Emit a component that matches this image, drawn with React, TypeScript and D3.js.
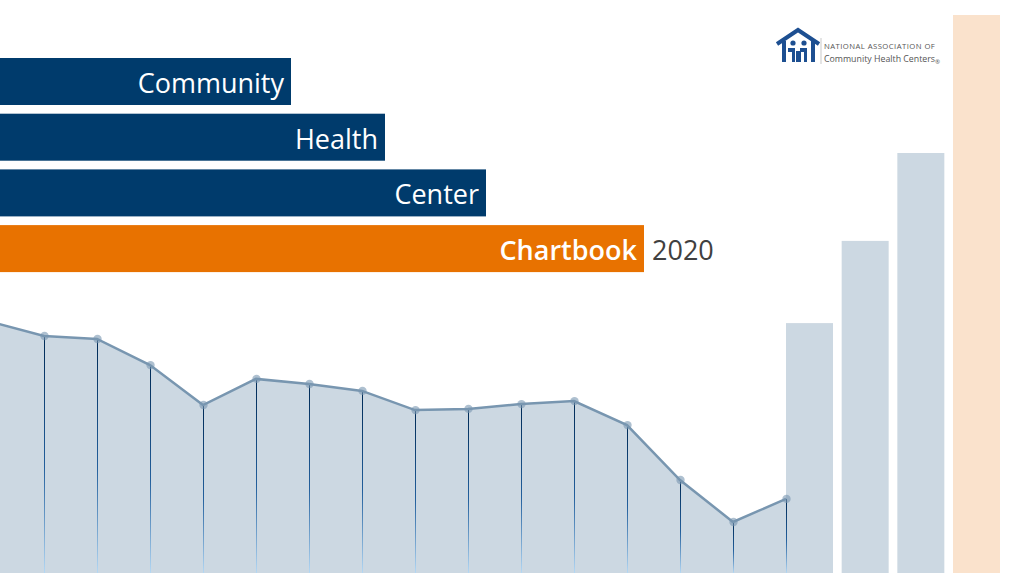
import React from 'react';
import * as d3 from 'd3';

const W = 1020;
const H = 573;

// title bars
const titleWords = ['Community', 'Health', 'Center', 'Chartbook'];
const titleWidths = [291, 385, 486, 644];
const titleYear = '2020';

// background area series (index -> value)
const lineValues = [83.7, 79, 78, 69.3, 56, 64.7, 63, 60.7, 54.3, 54.7, 56.3, 57.3, 49.3, 31, 17, 24.7];
// bars on the right
const barValues = [83.3, 110.7, 140, 186];
const barColors = ['#ccd8e2', '#ccd8e2', '#ccd8e2', '#fae2cc'];

const NAVY = '#003b6c';
const ORANGE = '#e87200';

export default function App() {
  const x = d3.scaleLinear().domain([0, 15]).range([-9, 786]);
  const y = d3.scaleLinear().domain([0, 100]).range([H, 273]);
  const barX = d3.scaleLinear().domain([0, 3]).range([786, 953]);
  const barW = 47;

  const pts = lineValues.map((v, i) => [x(i), y(v)] as [number, number]);
  const area = d3.area<[number, number]>()
    .x((d) => d[0])
    .y0(H)
    .y1((d) => d[1]);
  const line = d3.line<[number, number]>().x((d) => d[0]).y((d) => d[1]);

  return (
    <svg width={W} height={H} style={{ position: 'fixed', left: 0, top: 0, background: '#fff' }}
      fontFamily="'Open Sans', 'Noto Sans', sans-serif">
      <defs>
        <linearGradient id="drop" x1="0" y1="0" x2="0" y2="1">
          <stop offset="0%" stopColor="#002a55" />
          <stop offset="55%" stopColor="#225f9c" />
          <stop offset="100%" stopColor="#b4d8f4" />
        </linearGradient>
      </defs>
      <rect width={W} height={H} fill="#fff" />

      {/* bars */}
      {barValues.map((v, i) => (
        <rect key={i} x={barX(i)} y={y(v)} width={barW} height={H - y(v)} fill={barColors[i]} />
      ))}

      {/* area */}
      <path d={area(pts) || ''} fill="#ccd8e2" />
      {pts.slice(1).map((p, i) => (
        <rect key={i} x={Math.round(p[0])} y={p[1]} width={1} height={H - p[1]} fill="url(#drop)" />
      ))}
      <path d={line(pts) || ''} fill="none" stroke="#7896b0" strokeWidth={2.5} />
      {pts.slice(1).map((p, i) => (
        <circle key={i} cx={p[0] + 0.5} cy={p[1]} r={4.2} fill="#7896b0" fillOpacity={0.6} />
      ))}

      {/* title bars */}
      {titleWords.map((w, i) => {
        const top = 58 + i * 55.7;
        const last = i === titleWords.length - 1;
        return (
          <g key={w}>
            <rect x={0} y={top} width={titleWidths[i]} height={47} fill={last ? ORANGE : NAVY} />
            <text x={titleWidths[i] - 7} y={top + 35} textAnchor="end" fill="#fff" fontSize={27}
              fontWeight={last ? 600 : 400}>{w}</text>
            {last && (
              <text x={titleWidths[i] + 8} y={top + 35} fill="#404040" fontSize={27}>{titleYear}</text>
            )}
          </g>
        );
      })}

      {/* logo */}
      <g transform="translate(776,28)" fill="#1d4f91" stroke="#1d4f91">
        <polyline points="1,16 22,2 43,16" fill="none" strokeWidth={4} strokeLinejoin="miter" />
        <rect x={6} y={13} width={4} height={21} stroke="none" />
        <rect x={35} y={13} width={4} height={21} stroke="none" />
        <circle cx={17} cy={15} r={2.6} stroke="none" />
        <circle cx={28} cy={15} r={2.6} stroke="none" />
        <path d="M12 20 h7 v14 h-3 v-10 h-4 z" stroke="none" />
        <path d="M24 20 h7 v14 h-3 v-10 h-4 z" stroke="none" />
        <path d="M20 23 h5 v11 h-5 z" stroke="none" />
      </g>
      <line x1={821} y1={38} x2={821} y2={64} stroke="#bbb" strokeWidth={0.8} />
      <text x={824} y={49} fontSize={7.7} fill="#555" letterSpacing={0.45}>NATIONAL ASSOCIATION OF</text>
      <text x={824} y={62} fontSize={8.8} fill="#555">Community Health Centers<tspan fontSize={6} dy={2}>®</tspan></text>
    </svg>
  );
}
